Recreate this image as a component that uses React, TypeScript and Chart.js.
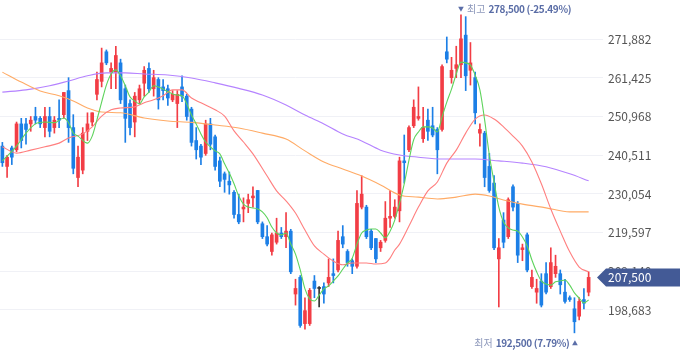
import React, { useEffect, useRef } from 'react';
import { Chart, registerables } from 'chart.js';

Chart.register(...registerables);

// ---- Daily OHLC (KRW) ----
const OPEN = [243000, 237500, 242500, 242000, 249000, 249000, 249000, 251000, 250500, 248000, 251000, 248000, 250500, 251500, 258000, 248000, 234500, 236500, 247000, 249500, 257000, 260500, 268500, 263000, 263000, 265500, 258500, 254500, 249500, 255500, 260000, 264000, 258500, 261000, 259000, 258500, 255500, 254500, 259000, 256500, 253000, 244500, 243000, 241000, 249000, 245500, 239000, 235500, 233500, 230500, 224500, 226000, 227500, 229000, 231000, 222000, 218500, 214500, 217000, 219500, 218500, 220000, 203000, 207500, 195000, 195000, 206500, 204500, 205000, 206000, 208500, 209500, 218500, 214500, 212000, 210500, 226500, 226500, 220000, 218000, 215500, 217500, 223500, 224000, 225500, 239000, 242000, 248500, 250500, 245000, 250000, 248500, 247500, 247500, 268500, 261500, 264000, 265000, 273000, 263500, 261500, 246500, 246500, 237500, 233000, 212500, 223000, 218500, 232000, 227500, 215000, 219000, 205000, 203500, 206500, 208500, 205000, 208500, 208500, 203500, 202000, 199000, 197000, 201500, 203500];
const HIGH = [244000, 240500, 243000, 249500, 250500, 250500, 251000, 253500, 251000, 253500, 253500, 251000, 255500, 257500, 261500, 251500, 243000, 248000, 252000, 252000, 263000, 269500, 269000, 265500, 270000, 266500, 259500, 255500, 257500, 259500, 264500, 265500, 263500, 261500, 261000, 259500, 258000, 258000, 262000, 257000, 253500, 248000, 243500, 250000, 250500, 246000, 240000, 236000, 236000, 231000, 230000, 229000, 230000, 232000, 231000, 222500, 221500, 219500, 223500, 221000, 225000, 220500, 207000, 208000, 202000, 204500, 208000, 205000, 206000, 212500, 212500, 220000, 221500, 215000, 212500, 231000, 235000, 227000, 220500, 218000, 217500, 228000, 231000, 228500, 240000, 246000, 248500, 255500, 259000, 253500, 253000, 253500, 248000, 265000, 272500, 267000, 270000, 278500, 278000, 271000, 263000, 249000, 247000, 241000, 235000, 218000, 225000, 229000, 232500, 228000, 216500, 219500, 209500, 207000, 208500, 211500, 215500, 213500, 209500, 207000, 202500, 202000, 202000, 204500, 209000];
const LOW = [237500, 234500, 238000, 241500, 242500, 243500, 247000, 249000, 248000, 245500, 245500, 246500, 248000, 250500, 244000, 235500, 232000, 235500, 244500, 248500, 255500, 259000, 265000, 258500, 258500, 254500, 244000, 246000, 245500, 254500, 256500, 257500, 256500, 253000, 255500, 254000, 255000, 248000, 255000, 250000, 243000, 239500, 238000, 240500, 242000, 236500, 232000, 230500, 230000, 223500, 222000, 222500, 225000, 226500, 222000, 218000, 216000, 213500, 216500, 218000, 215500, 208500, 200000, 194000, 193500, 194500, 202000, 199500, 200500, 205000, 206000, 209000, 215500, 210500, 208500, 210000, 226000, 218000, 215000, 211500, 214500, 217000, 221000, 223500, 222500, 233000, 241500, 248000, 250000, 244000, 244500, 245500, 235500, 247000, 265500, 260000, 261500, 261500, 258000, 259500, 249000, 243000, 232000, 230500, 215000, 199500, 215500, 218000, 225500, 211500, 212000, 209000, 204500, 200500, 199500, 203000, 204500, 207500, 203000, 200500, 201000, 192500, 196000, 199000, 202500];
const CLOSE = [238500, 240000, 240000, 249000, 244500, 247500, 250000, 250000, 249000, 251000, 247000, 250000, 250000, 257500, 248000, 237000, 240000, 246500, 249000, 252000, 261000, 265500, 265500, 264000, 267500, 255500, 250500, 248000, 256500, 258500, 263500, 258500, 261500, 255500, 258000, 256000, 257000, 257000, 256500, 251000, 244000, 242000, 240000, 249000, 243500, 237500, 233500, 234000, 232500, 224500, 222500, 226500, 228500, 229500, 222500, 218500, 216500, 219000, 219500, 218500, 220000, 209000, 204500, 194500, 198500, 204000, 204500, 204500, 203000, 207500, 208000, 217500, 216500, 211500, 210500, 227500, 230000, 218500, 215500, 212500, 217000, 223500, 224000, 226500, 239000, 238500, 248000, 253500, 251000, 248000, 247000, 246000, 242000, 264500, 266500, 263500, 265000, 272000, 262000, 265500, 252000, 247500, 234500, 231000, 215500, 215500, 217000, 228500, 226500, 213500, 215500, 209500, 207500, 204500, 200000, 203500, 211500, 210500, 205500, 201000, 201500, 195500, 201000, 200500, 207500];

// ---- Moving averages: [candle index, value] ----
const MA5: [number, number][] = [[0,239000],[3,243000],[5,246500],[7,249000],[9,249500],[11,249300],[13,250600],[14,249300],[15,246500],[16,245700],[18,243800],[19,245700],[20,250100],[21,254900],[22,259500],[23,262500],[24,263600],[25,262000],[26,259300],[27,256300],[28,255200],[29,254400],[30,256300],[31,257600],[32,259300],[33,259000],[34,258400],[36,257100],[37,256800],[38,256600],[39,254400],[40,251400],[41,249000],[42,246300],[43,244100],[44,242800],[45,241700],[46,240900],[47,238200],[48,235700],[49,232800],[50,229500],[51,227300],[52,226500],[54,226000],[55,225200],[56,223600],[57,221100],[58,219500],[59,219000],[60,219500],[61,216500],[62,213800],[63,209500],[64,204400],[65,201700],[66,201100],[67,202700],[68,204400],[69,205200],[70,206500],[71,207900],[72,209700],[73,211400],[74,212700],[75,216500],[76,219500],[77,220300],[78,220600],[79,220600],[80,219500],[81,218200],[82,220000],[83,223000],[84,227600],[85,232800],[86,239200],[87,244700],[88,246800],[89,248200],[90,248200],[91,247900],[92,246800],[93,250900],[94,254900],[95,258400],[96,262500],[97,265700],[98,265500],[99,264900],[100,262200],[101,258200],[102,250100],[103,240600],[104,233300],[105,226500],[106,222500],[107,220900],[108,220300],[109,220000],[110,218400],[111,216000],[112,212200],[113,209000],[114,206500],[115,205700],[116,205400],[117,206300],[118,206500],[119,206800],[120,205400],[121,203300],[122,201900],[123,200600],[124,201400]];
const MA20: [number, number][] = [[0,242800],[3,241100],[6,241900],[9,242800],[12,243800],[14,245200],[17,246300],[19,248200],[21,251100],[23,252800],[25,253300],[28,253600],[30,254700],[32,255500],[34,256600],[36,258200],[38,258200],[40,256000],[42,254700],[45,252800],[47,251100],[49,247100],[51,244100],[53,240900],[56,234900],[58,230900],[60,228200],[62,224900],[64,220300],[66,216000],[68,213800],[70,211900],[72,210900],[74,211400],[77,211400],[79,211100],[81,211400],[82,212700],[83,214900],[84,216500],[86,221400],[88,226500],[90,230900],[92,233300],[94,238400],[96,241900],[98,246500],[100,250300],[102,251400],[104,250300],[106,248200],[108,245700],[110,243000],[112,238700],[114,232800],[116,226000],[118,220000],[120,214400],[122,210300],[124,209000]];
const MA60: [number, number][] = [[0,263000],[4,260300],[8,257900],[12,256600],[15,255200],[18,253300],[21,252200],[25,252000],[30,250600],[35,249800],[40,249400],[45,248700],[50,247900],[55,246500],[60,244900],[64,241700],[68,238700],[72,236800],[76,234900],[80,232500],[84,229800],[88,229200],[92,228700],[96,229200],[100,230000],[103,229500],[106,228400],[110,227300],[115,226300],[120,225200],[124,225200]];
const MA120: [number, number][] = [[0,257600],[5,258200],[10,259300],[14,260600],[18,262000],[22,262800],[26,262800],[30,262500],[35,262200],[40,261400],[45,260100],[50,258600],[55,256800],[60,254100],[64,251400],[68,249000],[72,246300],[76,244400],[80,241900],[84,240600],[88,240000],[93,239500],[100,239500],[105,239000],[110,238400],[115,237400],[120,235500],[124,233600]];

// ---- Y axis tick labels ----
const Y_TICKS = [198683, 209140, 219597, 230054, 240511, 250968, 261425, 271882];
const Y_MIN = 185700;
const Y_MAX = 282500;

const LABELS = OPEN.map((_, i) => `D${i + 1}`);

const UP = '#f23d45';
const DOWN = '#1c7fe6';
const FLAT = '#333333';
const FONT = '"Noto Sans CJK KR", "Noto Sans", sans-serif';

const candleColor = (i: number) =>
  CLOSE[i] > OPEN[i] ? UP : CLOSE[i] < OPEN[i] ? DOWN : FLAT;

const expand = (pts: [number, number][]) => {
  const arr: (number | null)[] = OPEN.map(() => null);
  pts.forEach(([i, v]) => { arr[i] = v; });
  return arr;
};

const fmt = (v: number) => Math.round(v).toLocaleString('en-US');

const overlayPlugin = {
  id: 'overlay',
  afterDraw(chart: any) {
    const { ctx, scales } = chart;
    const xs = scales.x;
    const ys = scales.y;
    const last = CLOSE[CLOSE.length - 1];
    let hi = 0;
    HIGH.forEach((v, i) => { if (v > HIGH[hi]) hi = i; });
    let lo = 0;
    LOW.forEach((v, i) => { if (v < LOW[lo]) lo = i; });
    const pct = (v: number) => (((last - v) / v) * 100).toFixed(2) + '%';
    ctx.save();
    ctx.textBaseline = 'middle';
    ctx.textAlign = 'left';

    // Highest
    const hx = xs.getPixelForValue(hi);
    const hy = ys.getPixelForValue(HIGH[hi]) - 5.5;
    ctx.fillStyle = '#5b6ea8';
    ctx.beginPath();
    ctx.moveTo(hx - 2.8, hy - 2.5);
    ctx.lineTo(hx + 2.8, hy - 2.5);
    ctx.lineTo(hx, hy + 2.5);
    ctx.closePath();
    ctx.fill();
    let cx = hx + 6;
    ctx.font = `10px ${FONT}`;
    ctx.fillStyle = '#8d98bb';
    ctx.fillText('최고', cx, hy);
    cx += ctx.measureText('최고').width + 3;
    ctx.font = `bold 10px ${FONT}`;
    ctx.fillStyle = '#5a6da6';
    (ctx as any).letterSpacing = '-0.35px';
    ctx.fillText(`${fmt(HIGH[hi])} (${pct(HIGH[hi])})`, cx, hy);
    (ctx as any).letterSpacing = '0px';

    // Lowest
    const lx = xs.getPixelForValue(lo);
    const ly = ys.getPixelForValue(LOW[lo]) + 10;
    ctx.fillStyle = '#5b6ea8';
    ctx.beginPath();
    ctx.moveTo(lx - 2.3, ly + 2.5);
    ctx.lineTo(lx + 3.3, ly + 2.5);
    ctx.lineTo(lx + 0.5, ly - 2.5);
    ctx.closePath();
    ctx.fill();
    ctx.textAlign = 'right';
    let rx = lx - 5;
    ctx.font = `bold 10px ${FONT}`;
    ctx.fillStyle = '#5a6da6';
    const lowTxt = `${fmt(LOW[lo])} (${pct(LOW[lo])})`;
    (ctx as any).letterSpacing = '-0.35px';
    ctx.fillText(lowTxt, rx, ly);
    rx -= ctx.measureText(lowTxt).width + 3;
    (ctx as any).letterSpacing = '0px';
    ctx.font = `10px ${FONT}`;
    ctx.fillStyle = '#8d98bb';
    ctx.fillText('최저', rx, ly);

    // Current price tag
    const py = ys.getPixelForValue(last);
    const right = chart.width;
    ctx.fillStyle = '#435a96';
    ctx.beginPath();
    ctx.moveTo(597, py);
    ctx.lineTo(606, py - 9);
    ctx.lineTo(right, py - 9);
    ctx.lineTo(right, py + 9);
    ctx.lineTo(606, py + 9);
    ctx.closePath();
    ctx.fill();
    ctx.textAlign = 'left';
    ctx.font = `12px ${FONT}`;
    ctx.fillStyle = '#ffffff';
    ctx.fillText(fmt(last), 608, py + 0.5);
    ctx.restore();
  },
};

export default function App() {
  const canvasRef = useRef<HTMLCanvasElement | null>(null);

  useEffect(() => {
    const canvas = canvasRef.current;
    if (!canvas) return;
    const colors = OPEN.map((_, i) => candleColor(i));
    const lineDs = (label: string, pts: [number, number][], color: string, order: number) => ({
      type: 'line' as const,
      label,
      data: expand(pts),
      borderColor: color,
      borderWidth: 1.1,
      pointRadius: 0,
      spanGaps: true,
      tension: 0.35,
      cubicInterpolationMode: 'monotone' as const,
      order,
    });
    const chart = new Chart(canvas, {
      type: 'bar',
      data: {
        labels: LABELS,
        datasets: [
          lineDs('MA5', MA5, '#5ed35c', 0),
          lineDs('MA20', MA20, '#ff7f7f', 1),
          lineDs('MA60', MA60, '#ffab66', 1),
          lineDs('MA120', MA120, '#b583ff', 1),
          {
            type: 'bar',
            label: 'body',
            data: OPEN.map((o, i) => [Math.min(o, CLOSE[i]), Math.max(o, CLOSE[i])]) as any,
            backgroundColor: colors,
            barThickness: 3,
            minBarLength: 1,
            grouped: false,
            order: 5,
          },
          {
            type: 'bar',
            label: 'wick',
            data: LOW.map((l, i) => [l, HIGH[i]]) as any,
            backgroundColor: colors,
            barThickness: 1,
            grouped: false,
            order: 6,
          },
        ],
      },
      options: {
        responsive: false,
        animation: false,
        events: [],
        layout: { padding: 0, autoPadding: false } as any,
        plugins: { legend: { display: false }, tooltip: { enabled: false } },
        scales: {
          x: { display: false, offset: true, grid: { display: false } },
          y: {
            position: 'right',
            min: Y_MIN,
            max: Y_MAX,
            afterBuildTicks: (scale: any) => {
              scale.ticks = Y_TICKS.map((v) => ({ value: v }));
            },
            afterFit: (scale: any) => {
              scale.width = 89;
              scale.paddingTop = 0;
              scale.paddingBottom = 0;
            },
            border: { display: false },
            grid: { color: '#f0f1f6', drawTicks: true, tickLength: 12, lineWidth: 1 },
            ticks: {
              padding: 5,
              color: '#555555',
              font: { family: FONT, size: 12 },
              callback: (v: any) => fmt(Number(v)),
            },
          },
        },
      },
      plugins: [overlayPlugin],
    });
    return () => chart.destroy();
  }, []);

  return (
    <div style={{ position: 'fixed', left: 0, top: 0, width: 680, height: 358, background: '#fff' }}>
      <canvas ref={canvasRef} width={680} height={358} style={{ display: 'block', width: 680, height: 358 }} />
    </div>
  );
}
